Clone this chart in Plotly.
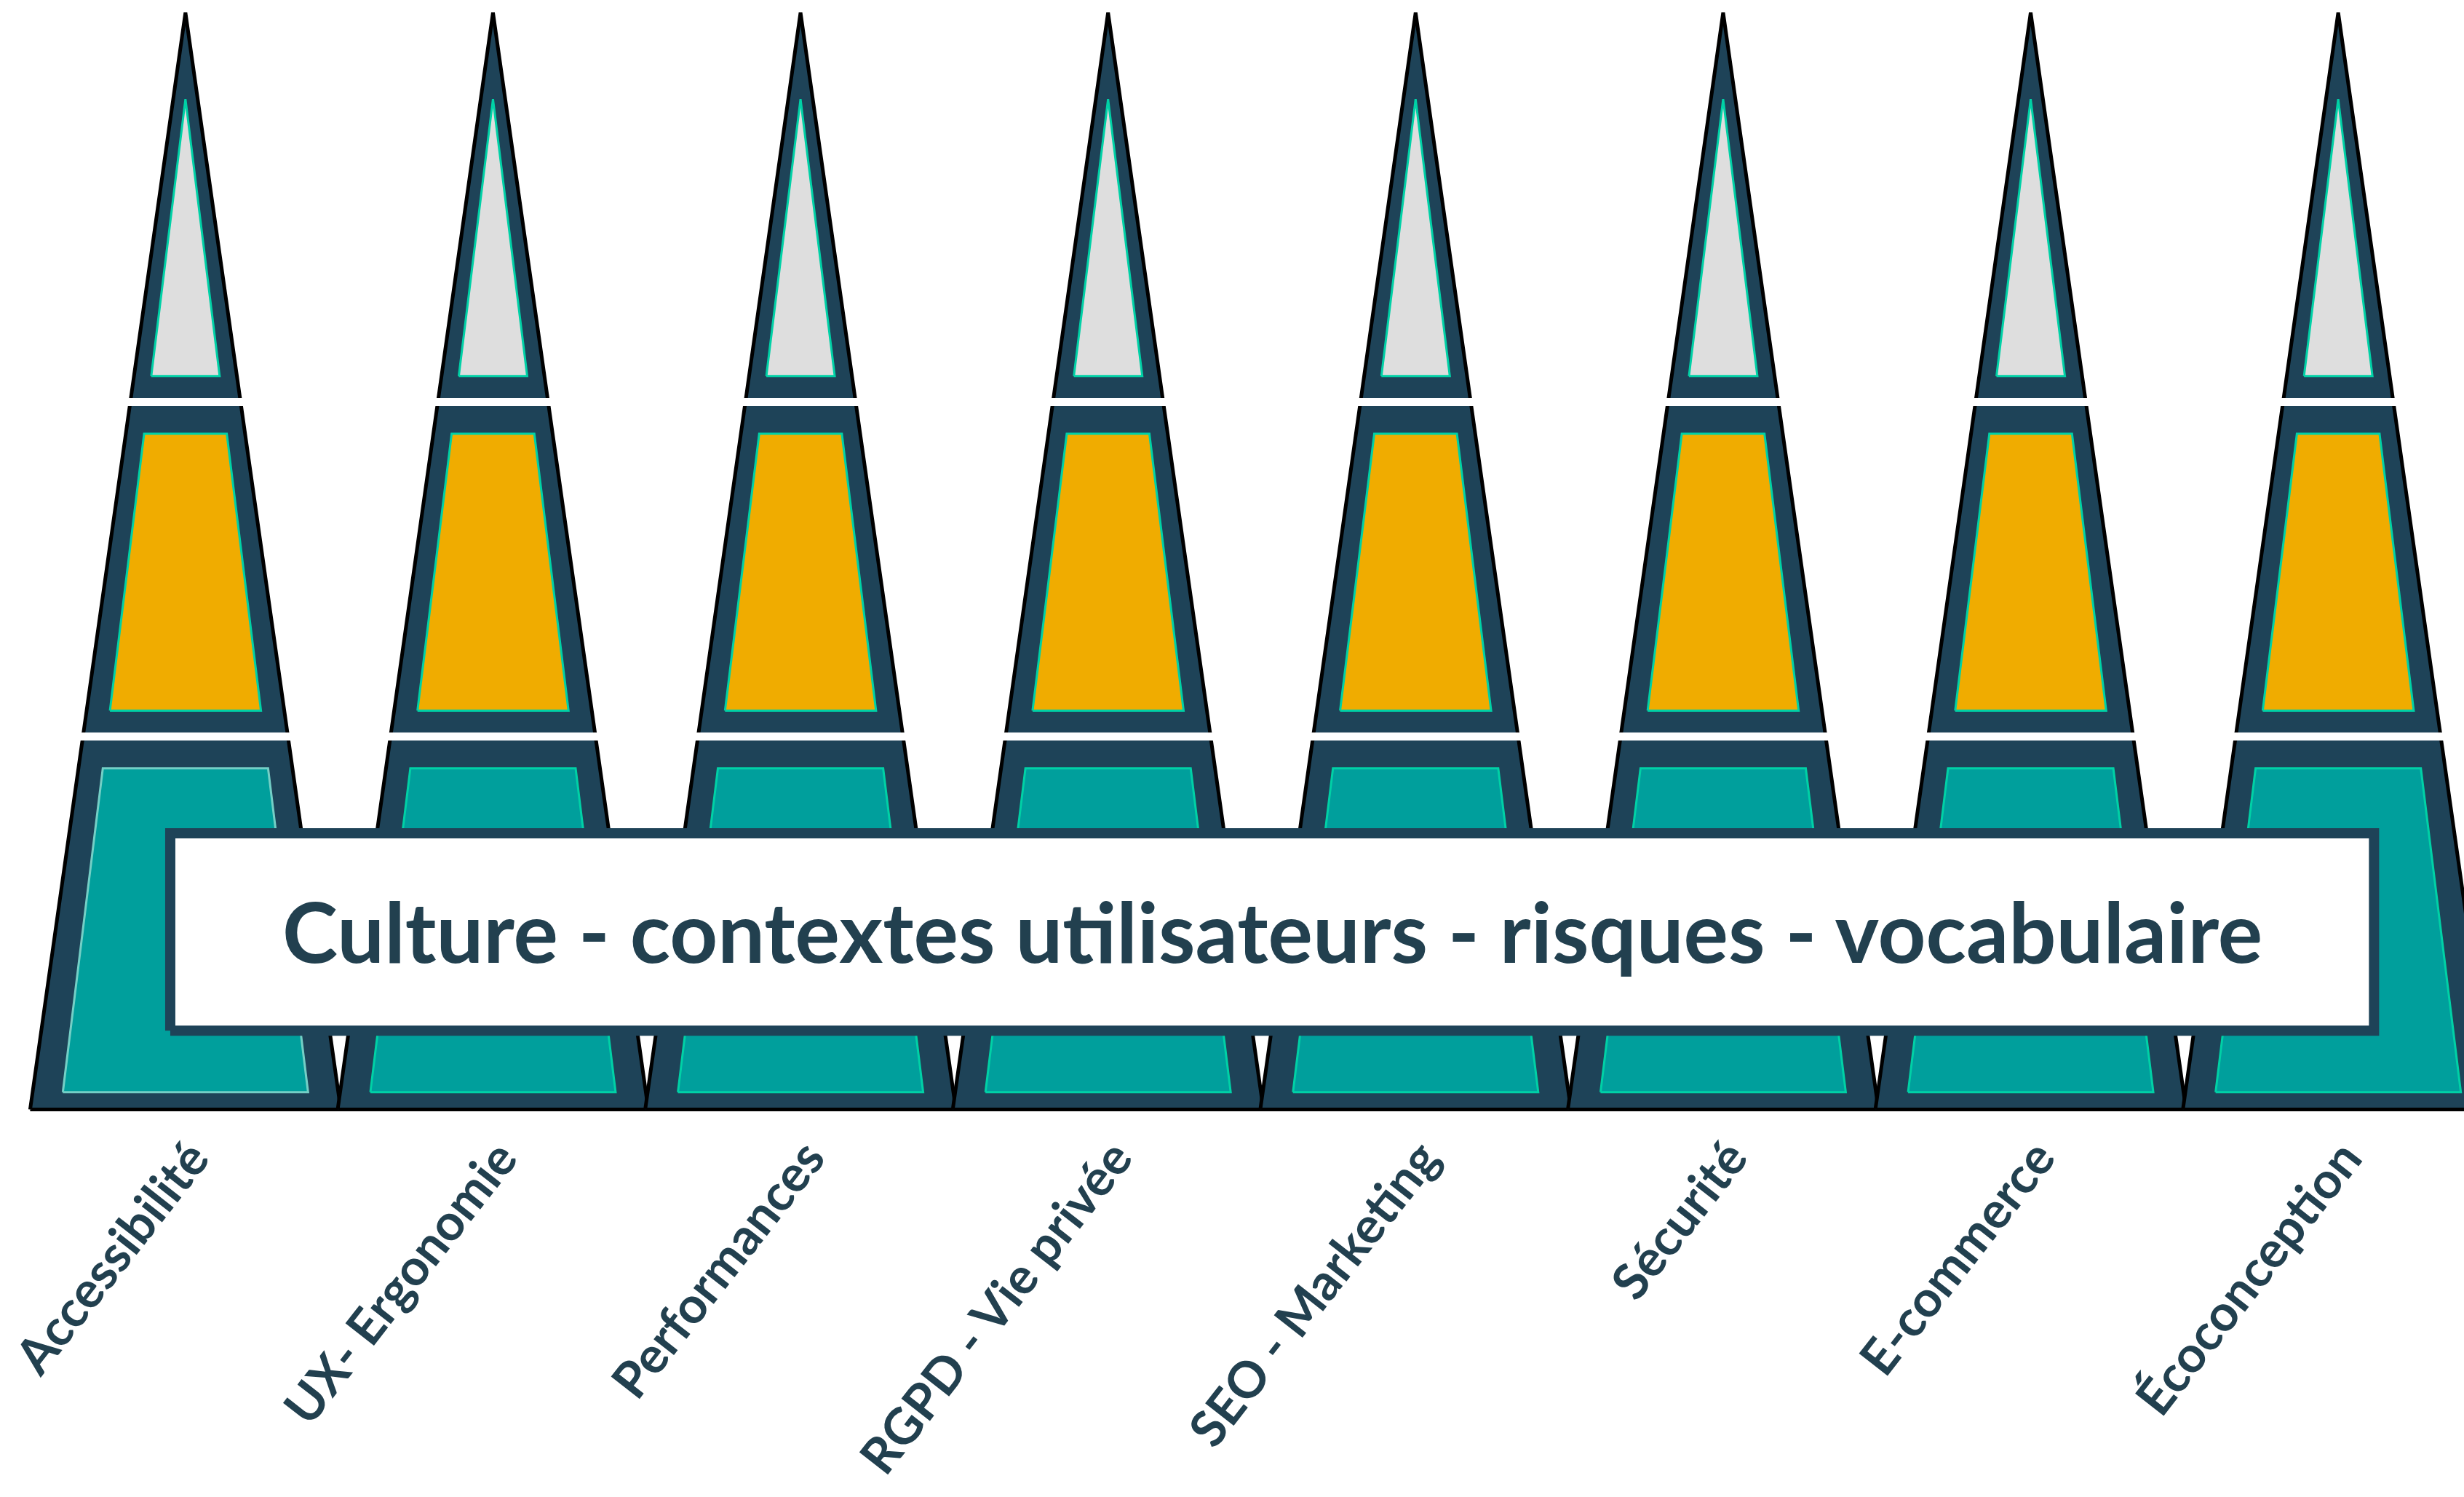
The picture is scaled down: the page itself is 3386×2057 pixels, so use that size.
import plotly.graph_objects as go

# ---------------- data ----------------
categories = ["Accessibilité", "UX- Ergonomie", "Performances", "RGPD - Vie privée",
              "SEO - Marketing", "Sécurité", "E-commerce", "Écoconception"]
layer_bounds = [0.0, 0.340, 0.645, 1.0]          # base -> apex (fraction of pyramid height)
layer_fill = ["#009F9C", "#F0AC00", "#DEDEDE"]    # bottom, middle, top
banner_text = "Culture - contextes utilisateurs - risques - vocabulaire"

# ---------------- style ----------------
W, H = 3386, 2057
DARK = "#1E4358"
TEXT = "#22404F"
INNER_LINE = "#00D1A6"
FIRST_INNER_LINE = "#74CFC6"
HALF_BASE = 0.505

def outer_hw(y):
    return HALF_BASE * (1 - y)

def inner_hw(y):
    return max(0.0, 0.872 * outer_hw(y) - 0.0347)

fig = go.Figure()

for i, cat in enumerate(categories):
    # outer dark pyramid with black outline
    xs = [i - outer_hw(0), i, i + outer_hw(0), i - outer_hw(0)]
    ys = [0, 1, 0, 0]
    fig.add_trace(go.Scatter(x=xs, y=ys, mode="lines", fill="toself",
                             fillcolor=DARK, line=dict(color="black", width=5),
                             hoverinfo="skip", showlegend=False))
    # white gaps between layers
    for b in layer_bounds[1:-1]:
        hw = outer_hw(b) + 0.03
        fig.add_trace(go.Scatter(x=[i - hw, i + hw], y=[b, b], mode="lines",
                                 line=dict(color="white", width=11),
                                 hoverinfo="skip", showlegend=False))
    # inner coloured shapes
    for k in range(3):
        lo, hi = layer_bounds[k], layer_bounds[k + 1]
        y0 = lo + (0.0158 if k == 0 else 0.0236)
        if k == 2:
            y1 = 1 - (0.0347 / 0.872) / HALF_BASE
        else:
            y1 = hi - 0.029
        h0, h1 = inner_hw(y0), inner_hw(y1)
        if h1 > 0:
            px = [i - h0, i - h1, i + h1, i + h0, i - h0]
            py = [y0, y1, y1, y0, y0]
        else:
            px = [i - h0, i, i + h0, i - h0]
            py = [y0, y1, y0, y0]
        lc = FIRST_INNER_LINE if (i == 0 and k == 0) else INNER_LINE
        fig.add_trace(go.Scatter(x=px, y=py, mode="lines", fill="toself",
                                 fillcolor=layer_fill[k], line=dict(color=lc, width=3),
                                 hoverinfo="skip", showlegend=False))

# banner box
bx0, bx1, by0, by1 = -0.066 + 0.0166, 7.133 - 0.0166, 0.0673 + 0.0046, 0.2564 - 0.0046
fig.add_trace(go.Scatter(x=[bx0, bx1, bx1, bx0, bx0], y=[by0, by0, by1, by1, by0],
                         mode="lines", fill="toself", fillcolor="white",
                         line=dict(color=DARK, width=14),
                         hoverinfo="skip", showlegend=False))

fig.add_annotation(x=(bx0 + bx1) / 2, y=(by0 + by1) / 2 + 0.002, text=banner_text,
                   showarrow=False, xanchor="center", yanchor="middle",
                   font=dict(family="Lato", size=115, color=TEXT, weight=700))

for i, cat in enumerate(categories):
    fig.add_annotation(x=i + 0.12, y=-0.0155, text=cat, showarrow=False,
                       xanchor="right", yanchor="top", textangle=-52,
                       font=dict(family="Lato", size=69, color=TEXT, weight=700))

fig.update_xaxes(range=[-0.603, 7.409], visible=False, showgrid=False, zeroline=False)
fig.update_yaxes(range=[-0.3533, 1.0115], visible=False, showgrid=False, zeroline=False)
fig.update_layout(width=W, height=H, autosize=False,
                  margin=dict(l=0, r=0, t=0, b=0, pad=0),
                  plot_bgcolor="white", paper_bgcolor="white")

fig.write_html("out.html", config={"displayModeBar": False},
               post_script="document.body.style.margin='0';document.body.style.padding='0';")
